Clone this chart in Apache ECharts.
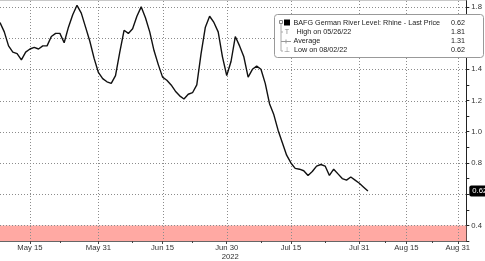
<!DOCTYPE html>
<html><head><meta charset="utf-8">
<script src="https://cdn.jsdelivr.net/npm/echarts@6/dist/echarts.min.js"></script>
<style>html,body{margin:0;padding:0;background:#fff}#c{width:485px;height:261px}</style>
</head><body><div id="c"></div>
<script>
// Daily river level readings, 2022-05-08 .. 2022-08-02
const levels = [1.70,1.64,1.55,1.51,1.50,1.46,1.51,1.53,1.54,1.53,
  1.55,1.55,1.61,1.63,1.63,1.57,1.67,1.75,1.81,1.76,
  1.67,1.58,1.47,1.38,1.34,1.32,1.31,1.36,1.51,1.65,
  1.63,1.66,1.74,1.80,1.73,1.64,1.52,1.43,1.35,1.33,
  1.30,1.26,1.23,1.21,1.24,1.25,1.30,1.50,1.67,1.74,
  1.70,1.64,1.48,1.36,1.45,1.61,1.55,1.48,1.35,1.40,
  1.42,1.40,1.31,1.18,1.11,1.01,0.93,0.85,0.80,0.765,
  0.76,0.75,0.72,0.745,0.78,0.79,0.78,0.72,0.76,0.73,
  0.70,0.69,0.71,0.69,0.67,0.645,0.62];
const dataStart = '2022-05-08', dataEnd = '2022-08-02', axisEnd = '2022-09-02';
const majorTickDates = ['2022-05-15','2022-05-31','2022-06-15','2022-06-30','2022-07-15','2022-07-31','2022-08-15','2022-08-31'];
const majorTickLabels = ['May 15','May 31','Jun 15','Jun 30','Jul 15','Jul 31','Aug 15','Aug 31'];
const minorTickDates = ['2022-05-22','2022-06-08','2022-06-22','2022-07-08','2022-07-23','2022-08-08','2022-08-23'];
const yearLabel = '2022';
const yMin = 0.3, yMax = 1.844;
const yGridValues = [0.4,0.6,0.8,1.0,1.2,1.4,1.6,1.8];
const thresholdLevel = 0.4;
const legendTitle = 'BAFG German River Level: Rhine - Last Price';
const legendRows = ['High on 05/26/22','Average','Low on 08/02/22'];
const legendValues = ['0.62','1.81','1.31','0.62'];
const lastPriceLabel = '0.62';

function fmt(d){return d.toISOString().slice(0,10);}
const categories = [];
{
  let d = new Date(dataStart+'T00:00:00Z');
  const e1 = new Date(dataEnd+'T00:00:00Z'), e2 = new Date(axisEnd+'T00:00:00Z');
  while (d <= e1){categories.push(fmt(d)); d = new Date(d.getTime()+86400000);}
  while (d <= e2){const wd=d.getUTCDay(); if(wd!==0&&wd!==6) categories.push(fmt(d)); d = new Date(d.getTime()+86400000);}
}
const majorSet = new Set(majorTickDates), minorSet = new Set(minorTickDates);
const FONT = 'Liberation Sans, Arial, sans-serif';
const LF = '7.2px ' + FONT;
const chart = echarts.init(document.getElementById('c'), null, {renderer:'canvas'});
chart.setOption({
  animation:false,
  textStyle:{fontFamily:FONT},
  grid:{left:0, right:14, top:0, bottom:16.7},
  xAxis:[{
    type:'category', data:categories, boundaryGap:false,
    axisLine:{lineStyle:{color:'#666', width:1}},
    axisTick:{length:3, lineStyle:{color:'#444'}, interval:(i,v)=>majorSet.has(v)},
    axisLabel:{fontSize:7.7, color:'#333', margin:2, lineHeight:9, fontFamily:FONT,
      interval:(i,v)=>majorSet.has(v),
      formatter:(v)=>{const k=majorTickDates.indexOf(v); if(k<0) return ''; return v==='2022-06-30'? majorTickLabels[k]+'\n{yr|'+yearLabel+'}' : majorTickLabels[k];},
      rich:{yr:{fontSize:7.7, color:'#333', padding:[0,0,0,7], fontFamily:FONT}}},
    splitLine:{show:false}
  },{
    type:'category', data:categories, boundaryGap:false, position:'bottom',
    axisLine:{show:false},
    axisTick:{length:2, lineStyle:{color:'#444'}, interval:(i,v)=>minorSet.has(v)},
    axisLabel:{show:false}, splitLine:{show:false}
  }],
  yAxis:{
    type:'value', position:'right', min:yMin, max:yMax, interval:0.1,
    axisLine:{show:true, lineStyle:{color:'#222'}},
    axisTick:{show:true, length:3, lineStyle:{color:'#222'}},
    axisLabel:{fontSize:7.7, color:'#333', margin:5, fontFamily:FONT,
      formatter:(v)=> (Math.round(v*10)%2===0 && v>=0.39) ? v.toFixed(1) : ''},
    splitLine:{show:false}
  },
  series:[{
    type:'line', data:levels, showSymbol:false, symbol:'none', z:3,
    lineStyle:{color:'#111', width:1.4},
    markArea:{silent:true, itemStyle:{color:'#ffa9a3', opacity:1},
      data:[[{yAxis:thresholdLevel},{yAxis:yMin}]]},
    markLine:{silent:true, symbol:'none', label:{show:false}, animation:false,
      data:[
        {yAxis:levels[levels.length-1], lineStyle:{color:'transparent', width:0},
         label:{show:true, position:'end', formatter:lastPriceLabel, backgroundColor:'#000', color:'#fff',
          fontSize:7.7, padding:[2,2,1,3], distance:3, borderRadius:2, fontFamily:FONT}}
      ]}
  }]
});

// gridlines: positions come from the chart's own coordinate conversion, drawn as dot rows
function px(cat, val){ return chart.convertToPixel({gridIndex:0}, [cat, val]); }
const pTL = px(categories[0], yMax), pBR = px(categories[categories.length-1], yMin);
const dots = [];
const dotStyle = {fill:'#8c8c8c'};
yGridValues.forEach(v=>{
  const y = Math.round(px(categories[0], v)[1]);
  for (let x = Math.ceil(pTL[0]); x < pBR[0]; x += 3) dots.push({type:'rect', silent:true, z:1, shape:{x:x, y:y, width:1, height:1}, style:dotStyle});
});
majorTickDates.forEach(d=>{
  const x = Math.round(px(d, yMin)[0]);
  for (let y = Math.ceil(pTL[1]) + 1; y < pBR[1]; y += 3) dots.push({type:'rect', silent:true, z:1, shape:{x:x, y:y, width:1, height:1}, style:dotStyle});
});
const topBorder = {type:'rect', silent:true, z:1, shape:{x:pTL[0], y:Math.round(pTL[1]), width:pBR[0]-pTL[0], height:1}, style:{fill:'#c8c8c8'}};
const legendGraphics = [
  {type:'rect', shape:{x:274.5, y:14.5, width:209, height:43, r:3}, style:{fill:'#fff', stroke:'#999', lineWidth:1}, z:100},
  {type:'rect', shape:{x:279.5, y:20.5, width:3, height:3}, style:{fill:'#fff', stroke:'#888', lineWidth:1}, z:101},
  {type:'rect', shape:{x:284, y:19.5, width:6, height:6}, style:{fill:'#000'}, z:101},
  {type:'line', shape:{x1:281, y1:24, x2:281, y2:51}, style:{stroke:'#aaa', lineWidth:1}, z:101},
  {type:'line', shape:{x1:281, y1:32, x2:283, y2:32}, style:{stroke:'#aaa', lineWidth:1}, z:101},
  {type:'line', shape:{x1:281, y1:41.5, x2:291, y2:41.5}, style:{stroke:'#999', lineWidth:1}, z:101},
  {type:'line', shape:{x1:286, y1:39.5, x2:286, y2:43.5}, style:{stroke:'#999', lineWidth:1}, z:101},
  {type:'line', shape:{x1:281, y1:51, x2:283, y2:51}, style:{stroke:'#aaa', lineWidth:1}, z:101},
  {type:'text', x:287, y:32.5, style:{text:'T', fill:'#888', font:LF, align:'center', verticalAlign:'middle'}, z:101},
  {type:'text', x:287, y:50.5, style:{text:'⊥', fill:'#888', font:LF, align:'center', verticalAlign:'middle'}, z:101},
  {type:'text', x:293.5, y:23.5, style:{text:legendTitle, fill:'#222', font:LF, verticalAlign:'middle'}, z:101},
  {type:'text', x:296.5, y:32.5, style:{text:legendRows[0], fill:'#222', font:LF, verticalAlign:'middle'}, z:101},
  {type:'text', x:293.5, y:41.5, style:{text:legendRows[1], fill:'#222', font:LF, verticalAlign:'middle'}, z:101},
  {type:'text', x:294, y:50.5, style:{text:legendRows[2], fill:'#222', font:LF, verticalAlign:'middle'}, z:101},
  ...legendValues.map((t,k)=>({type:'text', x:465, y:23.5+k*9, style:{text:t, fill:'#222', font:LF, align:'right', verticalAlign:'middle'}, z:101}))
];
chart.setOption({graphic:[topBorder, ...dots, ...legendGraphics]});
</script></body></html>
